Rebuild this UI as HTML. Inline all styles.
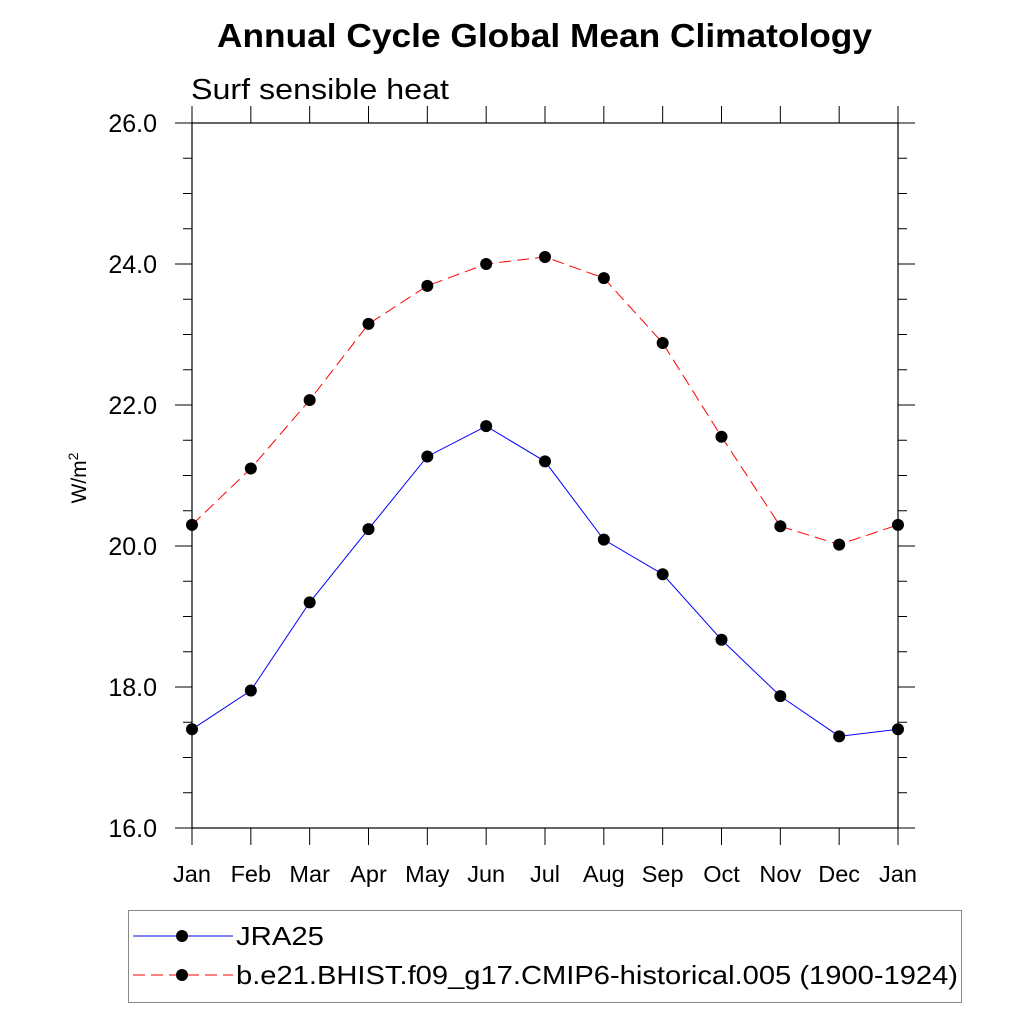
<!DOCTYPE html>
<html><head><meta charset="utf-8"><style>
body{margin:0;background:#fff}
svg text{font-family:"Liberation Sans",sans-serif;fill:#000}
</style></head><body>
<svg id="chart" width="1024" height="1024" xmlns="http://www.w3.org/2000/svg">
<text x="217" y="47" font-size="33" font-weight="bold" textLength="655" lengthAdjust="spacingAndGlyphs">Annual Cycle Global Mean Climatology</text>
<text x="191" y="99" font-size="29" textLength="258" lengthAdjust="spacingAndGlyphs">Surf sensible heat</text>
<text transform="translate(86,478) rotate(-90)" font-size="21" text-anchor="middle">W/m<tspan font-size="14" dy="-8">2</tspan></text>
<g id="axes"></g>
<g id="series"></g>
<g>
<rect x="128.5" y="910.5" width="833" height="92" fill="#fff" stroke="#888" stroke-width="1"/>
<line x1="133" y1="936" x2="233" y2="936" stroke="#0000ff" stroke-width="1"/>
<circle cx="182" cy="936" r="6" fill="#000"/>
<text x="236" y="945" font-size="26" textLength="88" lengthAdjust="spacingAndGlyphs">JRA25</text>
<line x1="133" y1="975" x2="233" y2="975" stroke="#ff0000" stroke-width="1" stroke-dasharray="12,6"/>
<circle cx="182" cy="975" r="6" fill="#000"/>
<text x="236" y="984" font-size="26" textLength="722" lengthAdjust="spacingAndGlyphs">b.e21.BHIST.f09_g17.CMIP6-historical.005 (1900-1924)</text>
</g>
</svg>
<script>
const months=["Jan","Feb","Mar","Apr","May","Jun","Jul","Aug","Sep","Oct","Nov","Dec","Jan"];
const jra25=[17.4,17.95,19.2,20.24,21.27,21.7,21.2,20.09,19.6,18.67,17.87,17.3,17.4];
const model=[20.3,21.1,22.07,23.15,23.69,24.0,24.1,23.8,22.88,21.55,20.28,20.02,20.3];
const yTicks=[16,18,20,22,24,26];
const yTickLabels=["16.0","18.0","20.0","22.0","24.0","26.0"];
const NS="http://www.w3.org/2000/svg";
const L=192,R=898,T=123,B=828,yMin=16,yMax=26;
function xs(i){return L+(R-L)*i/(months.length-1);}
function ys(v){return B-(v-yMin)/(yMax-yMin)*(B-T);}
function mk(tag,attrs,parent,text){const e=document.createElementNS(NS,tag);for(const k in attrs)e.setAttribute(k,attrs[k]);if(text!==undefined)e.textContent=text;parent.appendChild(e);return e;}
const ax=document.getElementById('axes');
const frame=mk('rect',{x:L,y:T,width:R-L,height:B-T,fill:'none',stroke:'#000','stroke-width':1.2},ax);


for(let v=yMin;v<=yMax+1e-9;v+=0.5){
  const y=ys(v);const major=Math.abs(v-Math.round(v/2)*2)<1e-9;const len=major?17:9;
  mk('line',{x1:L-len,y1:y,x2:L,y2:y,stroke:'#000','stroke-width':1},ax);
  mk('line',{x1:R,y1:y,x2:R+len,y2:y,stroke:'#000','stroke-width':1},ax);
}
yTicks.forEach((v,i)=>{
  const t=mk('text',{x:L-35,y:ys(v)+9,'font-size':25,'text-anchor':'end'},ax,yTickLabels[i]);
  
  
});
months.forEach((m,i)=>{
  const x=xs(i);
  mk('line',{x1:x,y1:B,x2:x,y2:B+17,stroke:'#000','stroke-width':1},ax);
  mk('line',{x1:x,y1:T,x2:x,y2:T-17,stroke:'#000','stroke-width':1},ax);
  const t=mk('text',{x:x,y:882,'font-size':23.5,'text-anchor':'middle'},ax,m);
  
  
});
const sg=document.getElementById('series');
function draw(vals,color,dash,name){
  const p=mk('polyline',{points:vals.map((v,i)=>xs(i)+','+ys(v)).join(' '),fill:'none',stroke:color,'stroke-width':1,'stroke-dasharray':dash},sg);
  
  
  vals.forEach((v,i)=>{
    const c=mk('circle',{cx:xs(i),cy:ys(v),r:6,fill:'#000'},sg);
    
    
  });
}
draw(model,'#ff0000','12,6','model');
draw(jra25,'#0000ff','none','jra25');
</script>
</body></html>
